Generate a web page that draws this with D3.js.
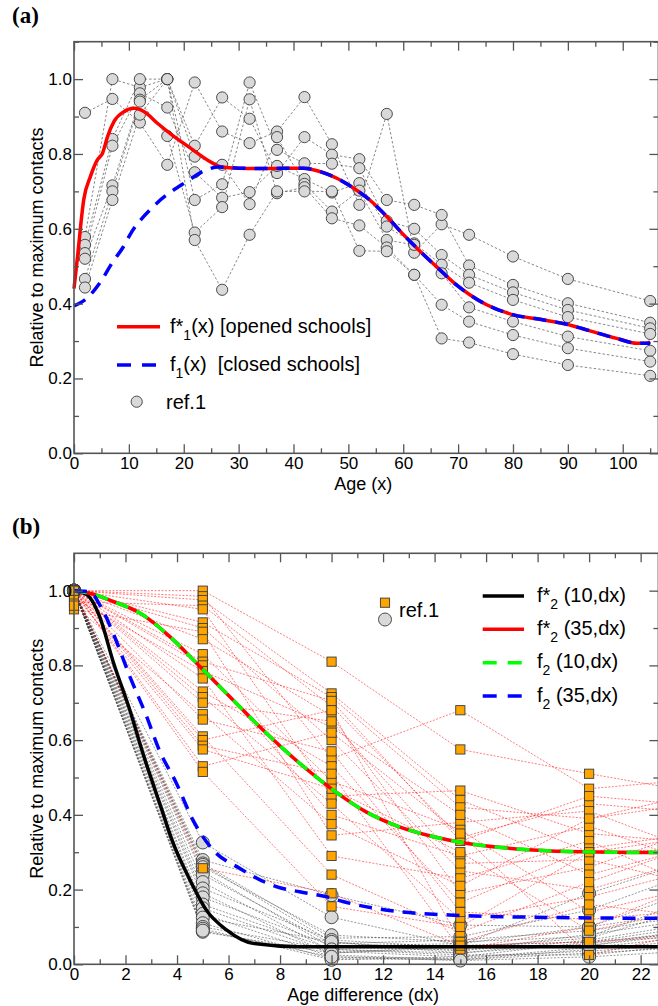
<!DOCTYPE html>
<html>
<head>
<meta charset="utf-8">
<script src="https://d3js.org/d3.v7.min.js"></script>
<style>
body { margin: 0; background: #fff; }
svg { display: block; font-family: "Liberation Sans", Arial, Helvetica, sans-serif; }
text { white-space: pre; }
</style>
</head>
<body>
<script>
var width = 658;
var height = 1006;

// ---- panel (a) : contacts vs age
var ages = [2, 7, 12, 17, 22, 27, 32, 37, 42, 47, 52, 57, 62, 67, 72, 80, 90, 105];
var refA = [
  [0.91, 0.947, 0.884, 0.771, 0.991, 0.86, 0.829, 0.86, 0.952, 0.826, 0.664, 0.907, 0.536, 0.612, 0.584, 0.526, 0.466, 0.407],
  [0.578, 1.0, 0.978, 1.0, 0.822, 0.951, 0.894, 0.749, 0.845, 0.798, 0.786, 0.677, 0.664, 0.637, 0.502, 0.45, 0.401, 0.349],
  [0.557, 0.84, 1.0, 1.0, 0.677, 0.719, 0.991, 0.811, 0.775, 0.774, 0.762, 0.621, 0.60, 0.53, 0.477, 0.43, 0.383, 0.334],
  [0.535, 0.822, 0.962, 0.924, 0.751, 0.683, 0.698, 0.768, 0.733, 0.697, 0.722, 0.606, 0.561, 0.504, 0.456, 0.41, 0.364, 0.319],
  [0.52, 0.716, 0.945, 1.0, 0.793, 0.771, 0.666, 0.845, 0.72, 0.646, 0.702, 0.57, 0.557, 0.481, 0.39, 0.352, 0.312, 0.274],
  [0.466, 0.70, 0.94, 0.848, 0.59, 0.658, 0.946, 0.695, 0.711, 0.628, 0.609, 0.55, 0.477, 0.397, 0.352, 0.316, 0.281, 0.245],
  [0.443, 0.677, 0.905, 1.0, 0.57, 0.437, 0.584, 0.70, 0.70, 0.70, 0.541, 0.54, 0.477, 0.307, 0.296, 0.265, 0.236, 0.207]
];
// curves, [age, value]
var fStar1 = [[0, 0.44], [0.6, 0.52], [1.8, 0.68], [3, 0.74], [4.25, 0.784], [5.2, 0.802], [6.1, 0.846],
  [7.3, 0.887], [9.1, 0.913], [10.9, 0.922], [12.8, 0.913], [15.2, 0.882], [18.2, 0.847], [21.3, 0.815],
  [24.3, 0.784], [26.7, 0.766], [30, 0.762], [35, 0.761], [41.8, 0.762], [44.8, 0.753], [47.9, 0.735],
  [50.9, 0.709], [53.9, 0.677], [57, 0.633], [60, 0.585], [62.5, 0.548], [66.7, 0.49], [69.7, 0.45],
  [72.2, 0.423], [75.2, 0.397], [80.1, 0.37], [84.9, 0.358], [89.8, 0.345], [93.4, 0.33], [98.9, 0.307],
  [102.6, 0.294], [104.4, 0.294], [105, 0.298]];
var f1 = [[0, 0.394], [2.3, 0.414], [4.7, 0.455], [7, 0.51], [9, 0.552], [10.2, 0.584], [14.5, 0.66],
  [20.5, 0.726], [24.2, 0.758], [26.3, 0.765], [30, 0.762], [35, 0.761], [41.8, 0.762], [44.8, 0.753],
  [47.9, 0.735], [50.9, 0.709], [53.9, 0.677], [57, 0.633], [60, 0.585], [62.5, 0.548], [66.7, 0.49],
  [69.7, 0.45], [72.2, 0.423], [75.2, 0.397], [80.1, 0.37], [84.9, 0.358], [89.8, 0.345], [93.4, 0.33],
  [98.9, 0.307], [102.6, 0.294], [105, 0.294]];

// ---- panel (b) : contacts vs age difference
var dxGroups = [0, 5, 10, 15, 20, 25];
var refOpen = [
  [1.0, 1.0, 0.81, 0.575, 0.51, 0.45],
  [1.0, 0.985, 0.55, 0.68, 0.47, 0.50],
  [1.0, 0.975, 0.725, 0.44, 0.30, 0.35],
  [0.97, 0.96, 0.69, 0.34, 0.43, 0.40],
  [1.0, 0.95, 0.45, 0.465, 0.35, 0.32],
  [1.0, 0.915, 0.715, 0.42, 0.39, 0.47],
  [1.0, 0.90, 0.60, 0.25, 0.20, 0.30],
  [0.95, 0.89, 0.345, 0.38, 0.41, 0.28],
  [1.0, 0.87, 0.665, 0.19, 0.26, 0.38],
  [1.0, 0.83, 0.49, 0.36, 0.14, 0.22],
  [1.0, 0.81, 0.705, 0.33, 0.45, 0.42],
  [1.0, 0.80, 0.40, 0.29, 0.37, 0.25],
  [0.98, 0.785, 0.635, 0.40, 0.24, 0.33],
  [1.0, 0.765, 0.29, 0.23, 0.33, 0.18],
  [1.0, 0.73, 0.53, 0.165, 0.31, 0.36],
  [1.0, 0.715, 0.43, 0.12, 0.18, 0.27],
  [1.0, 0.70, 0.65, 0.27, 0.28, 0.20],
  [0.96, 0.67, 0.375, 0.21, 0.39, 0.44],
  [1.0, 0.655, 0.57, 0.14, 0.12, 0.15],
  [1.0, 0.61, 0.24, 0.085, 0.22, 0.34],
  [1.0, 0.60, 0.68, 0.06, 0.16, 0.12],
  [1.0, 0.585, 0.51, 0.04, 0.10, 0.24],
  [0.99, 0.575, 0.47, 0.30, 0.09, 0.16],
  [1.0, 0.53, 0.62, 0.35, 0.025, 0.10],
  [1.0, 0.515, 0.155, 0.10, 0.30, 0.31],
  [1.0, 0.257, 0.19, 0.05, 0.06, 0.08]
];
var refClosed = [
  [1, 0.326, 0.126, 0.05, 0.19, 0.30],
  [1, 0.279, 0.185, 0.105, 0.10, 0.15],
  [1, 0.27, 0.07, 0.074, 0.145, 0.27],
  [1, 0.266, 0.06, 0.03, 0.065, 0.12],
  [1, 0.26, 0.078, 0.06, 0.074, 0.20],
  [1, 0.248, 0.045, 0.04, 0.05, 0.10],
  [1, 0.24, 0.055, 0.065, 0.09, 0.14],
  [1, 0.22, 0.035, 0.02, 0.06, 0.09],
  [1, 0.203, 0.065, 0.045, 0.07, 0.17],
  [1, 0.19, 0.025, 0.012, 0.04, 0.07],
  [1, 0.179, 0.05, 0.055, 0.10, 0.22],
  [1, 0.16, 0.04, 0.025, 0.025, 0.06],
  [1, 0.15, 0.03, 0.05, 0.06, 0.11],
  [1, 0.135, 0.02, 0.015, 0.045, 0.08],
  [1, 0.125, 0.06, 0.035, 0.08, 0.13],
  [1, 0.11, 0.015, 0.012, 0.03, 0.05],
  [1, 0.10, 0.04, 0.03, 0.055, 0.10],
  [1, 0.095, 0.012, 0.02, 0.035, 0.06],
  [1, 0.087, 0.03, 0.045, 0.05, 0.09],
  [1, 0.09, 0.02, 0.01, 0.02, 0.04]
];
var fStar2_10 = [[0, 1], [0.49, 0.99], [1.0, 0.93], [1.52, 0.81], [2.17, 0.68], [2.65, 0.57], [3.33, 0.43],
  [3.85, 0.324], [4.5, 0.226], [5.14, 0.145], [5.92, 0.092], [6.95, 0.056], [8.76, 0.047], [12, 0.047],
  [16, 0.047], [22.7, 0.047]];
var fStar2_35 = [[0, 1], [0.62, 0.993], [1.52, 0.971], [2.56, 0.94], [3.72, 0.877], [4.76, 0.806],
  [6.05, 0.716], [7.34, 0.627], [8.76, 0.538], [10.05, 0.467], [11.34, 0.408], [12.63, 0.368],
  [13.93, 0.342], [15.22, 0.324], [16.5, 0.313], [17.8, 0.306], [19.7, 0.301], [22.7, 0.299]];
var f2_10 = [[0, 1], [0.62, 0.993], [1.52, 0.971], [2.56, 0.94], [3.72, 0.877], [4.76, 0.806],
  [6.05, 0.716], [7.34, 0.627], [8.76, 0.538], [10.05, 0.467], [11.34, 0.408], [12.63, 0.368],
  [13.93, 0.342], [15.22, 0.324], [16.5, 0.313], [17.8, 0.306], [19.7, 0.301], [22.7, 0.299]];
var f2_35 = [[0, 1], [0.62, 0.997], [1.0, 0.962], [1.52, 0.886], [2.17, 0.77], [2.82, 0.663], [3.3, 0.575],
  [3.98, 0.484], [4.62, 0.386], [5.4, 0.306], [6.43, 0.257], [7.85, 0.208], [8.76, 0.194], [9.79, 0.181],
  [10.44, 0.168], [12.63, 0.141], [14.57, 0.132], [17.8, 0.126], [22.7, 0.123]];

var svg = d3.select('body').append('svg')
  .attr('width', width)
  .attr('height', height);

var FRAME = '#555';
var TICK_FONT = 17;

// frame with inward ticks on the four sides
var drawFrame = function(g, x, y, w, h, xMajor, xMinor, yMajor, yMinor){
  var add = function(axis, tx, ty){
    var a = g.append('g').attr('transform', 'translate(' + tx + ',' + ty + ')').call(axis);
    a.select('.domain').remove();
    a.selectAll('line').attr('stroke', FRAME).attr('stroke-width', 1.3);
    return a;
  };
  add(d3.axisBottom(x).tickValues(xMajor).tickSize(-9).tickPadding(4).tickFormat(d3.format('d')), 0, h)
    .selectAll('text').attr('font-size', TICK_FONT).attr('fill', '#000').attr('font-family', null);
  add(d3.axisBottom(x).tickValues(xMinor).tickSize(-5).tickFormat(''), 0, h);
  add(d3.axisTop(x).tickValues(xMajor).tickSize(-9).tickFormat(''), 0, 0);
  add(d3.axisTop(x).tickValues(xMinor).tickSize(-5).tickFormat(''), 0, 0);
  add(d3.axisLeft(y).tickValues(yMajor).tickSize(-9).tickPadding(2).tickFormat(d3.format('.1f')), 0, 0)
    .selectAll('text').attr('font-size', TICK_FONT).attr('fill', '#000').attr('font-family', null);
  add(d3.axisLeft(y).tickValues(yMinor).tickSize(-5).tickFormat(''), 0, 0);
  add(d3.axisRight(y).tickValues(yMajor).tickSize(-9).tickFormat(''), w, 0);
  add(d3.axisRight(y).tickValues(yMinor).tickSize(-5).tickFormat(''), w, 0);
  g.append('rect').attr('width', w).attr('height', h)
    .attr('fill', 'none').attr('stroke', FRAME).attr('stroke-width', 1.6);
};

var axisTitles = function(g, w, h, xTitle){
  g.append('text').attr('x', w / 2 - 3).attr('y', h + 37)
    .attr('text-anchor', 'middle').attr('font-size', 18).text(xTitle);
  g.append('text')
    .attr('transform', 'translate(' + (-31) + ',' + (h / 2) + ') rotate(-90)')
    .attr('text-anchor', 'middle').attr('font-size', 18).text('Relative to maximum contacts');
};

var subText = function(g, x, y, pre, sub, post){
  var t = g.append('text').attr('x', x).attr('y', y).attr('font-size', 20);
  t.append('tspan').text(pre);
  t.append('tspan').attr('font-size', 14).attr('dy', 7).text(sub);
  t.append('tspan').attr('dy', -7).text(post);
};

// =================== panel (a)
(function(){
  var left = 74, top = 41.7, w = 584.4, h = 411.6;
  var g = svg.append('g').attr('transform', 'translate(' + left + ',' + top + ')');
  var x = d3.scaleLinear().domain([0, 106.5]).range([0, w]);
  var y = d3.scaleLinear().domain([0, 1.1]).range([h, 0]);

  svg.append('text').attr('x', 12).attr('y', 22.5)
    .attr('font-family', '"Liberation Serif", "Times New Roman", serif')
    .attr('font-weight', 'bold').attr('font-size', 23).text('(a)');

  var line = d3.line().x(function(d){ return x(d[0]); }).y(function(d){ return y(d[1]); });
  var smooth = d3.line().x(function(d){ return x(d[0]); }).y(function(d){ return y(d[1]); })
    .curve(d3.curveMonotoneX);

  refA.forEach(function(s){
    g.append('path')
      .attr('d', line(s.map(function(v, i){ return [ages[i], v]; })))
      .attr('fill', 'none').attr('stroke', '#555').attr('stroke-width', 0.7)
      .attr('stroke-dasharray', '2.5,2');
  });
  refA.forEach(function(s){
    g.selectAll(null).data(s).enter().append('circle')
      .attr('cx', function(d, i){ return x(ages[i]); })
      .attr('cy', function(d){ return y(d); })
      .attr('r', 5.6)
      .attr('fill', '#d9d9d9').attr('stroke', '#3a3a3a').attr('stroke-width', 0.9);
  });

  g.append('path').attr('d', smooth(fStar1))
    .attr('fill', 'none').attr('stroke', '#ff0000').attr('stroke-width', 3.5);
  g.append('path').attr('d', smooth(f1))
    .attr('fill', 'none').attr('stroke', '#0000ff').attr('stroke-width', 3.5)
    .attr('stroke-dasharray', '13,9');

  drawFrame(g, x, y, w, h, d3.range(0, 101, 10), d3.range(5, 106, 10),
    d3.range(0, 1.01, 0.2), [0.1, 0.3, 0.5, 0.7, 0.9, 1.1]);
  axisTitles(g, w, h, 'Age (x)');

  // legend
  var lg = svg.append('g');
  lg.append('line').attr('x1', 117).attr('x2', 160).attr('y1', 326.7).attr('y2', 326.7)
    .attr('stroke', '#ff0000').attr('stroke-width', 3.5);
  subText(lg, 170, 333, 'f*', '1', '(x) [opened schools]');
  lg.append('line').attr('x1', 117).attr('x2', 160).attr('y1', 365).attr('y2', 365)
    .attr('stroke', '#0000ff').attr('stroke-width', 3.5).attr('stroke-dasharray', '14,11');
  subText(lg, 170, 371, 'f', '1', '(x)  [closed schools]');
  lg.append('circle').attr('cx', 136.7).attr('cy', 401.7).attr('r', 5.6)
    .attr('fill', '#d9d9d9').attr('stroke', '#3a3a3a').attr('stroke-width', 0.9);
  lg.append('text').attr('x', 166).attr('y', 408.5).attr('font-size', 20).text('ref.1');
})();

// =================== panel (b)
(function(){
  var left = 74, top = 553.3, w = 584.4, h = 411;
  var g = svg.append('g').attr('transform', 'translate(' + left + ',' + top + ')');
  var x = d3.scaleLinear().domain([0, 22.69]).range([0, w]);
  var y = d3.scaleLinear().domain([0, 1.1]).range([h, 0]);

  svg.append('text').attr('x', 12).attr('y', 534)
    .attr('font-family', '"Liberation Serif", "Times New Roman", serif')
    .attr('font-weight', 'bold').attr('font-size', 23).text('(b)');

  var line = d3.line().x(function(d){ return x(d[0]); }).y(function(d){ return y(d[1]); });
  var smooth = d3.line().x(function(d){ return x(d[0]); }).y(function(d){ return y(d[1]); })
    .curve(d3.curveMonotoneX);
  var pts = function(s){ return s.map(function(v, i){ return [dxGroups[i], v]; }); };

  refClosed.forEach(function(s){
    g.append('path').attr('d', line(pts(s)))
      .attr('fill', 'none').attr('stroke', '#333').attr('stroke-width', 0.6)
      .attr('stroke-dasharray', '2,1.5').attr('opacity', 0.85);
  });
  refOpen.forEach(function(s){
    g.append('path').attr('d', line(pts(s)))
      .attr('fill', 'none').attr('stroke', '#ff1010').attr('stroke-width', 0.65)
      .attr('stroke-dasharray', '2,1.5').attr('opacity', 0.85);
  });
  refClosed.forEach(function(s){
    g.selectAll(null).data(pts(s)).enter().append('circle')
      .attr('cx', function(d){ return x(d[0]); })
      .attr('cy', function(d){ return y(d[1]); })
      .attr('r', 6.5)
      .attr('fill', '#d9d9d9').attr('stroke', '#3a3a3a').attr('stroke-width', 0.9);
  });
  refOpen.forEach(function(s){
    g.selectAll(null).data(pts(s)).enter().append('rect')
      .attr('x', function(d){ return x(d[0]) - 4.6; })
      .attr('y', function(d){ return y(d[1]) - 4.6; })
      .attr('width', 9.2).attr('height', 9.2)
      .attr('fill', '#ffa500').attr('stroke', '#3a3a3a').attr('stroke-width', 0.9);
  });

  g.append('path').attr('d', smooth(fStar2_10))
    .attr('fill', 'none').attr('stroke', '#000').attr('stroke-width', 3.5);
  g.append('path').attr('d', smooth(fStar2_35))
    .attr('fill', 'none').attr('stroke', '#ff0000').attr('stroke-width', 3.5);
  g.append('path').attr('d', smooth(f2_10))
    .attr('fill', 'none').attr('stroke', '#00ff00').attr('stroke-width', 3.5)
    .attr('stroke-dasharray', '13,9');
  g.append('path').attr('d', smooth(f2_35))
    .attr('fill', 'none').attr('stroke', '#0000ff').attr('stroke-width', 3.5)
    .attr('stroke-dasharray', '13,9');

  drawFrame(g, x, y, w, h, d3.range(0, 23, 2), d3.range(1, 23, 2),
    d3.range(0, 1.01, 0.2), [0.1, 0.3, 0.5, 0.7, 0.9]);
  axisTitles(g, w, h, 'Age difference (dx)');

  // legend
  var lg = svg.append('g');
  lg.append('rect').attr('x', 380.4).attr('y', 598.1).attr('width', 9.2).attr('height', 9.2)
    .attr('fill', '#ffa500').attr('stroke', '#3a3a3a').attr('stroke-width', 0.9);
  lg.append('circle').attr('cx', 385).attr('cy', 619.5).attr('r', 6.5)
    .attr('fill', '#d9d9d9').attr('stroke', '#3a3a3a').attr('stroke-width', 0.9);
  lg.append('text').attr('x', 399).attr('y', 617).attr('font-size', 20).text('ref.1');

  var items = [
    { color: '#000', dash: null, pre: 'f*', post: ' (10,dx)', y: 596 },
    { color: '#ff0000', dash: null, pre: 'f*', post: ' (35,dx)', y: 629.3 },
    { color: '#00ff00', dash: '14,11', pre: 'f', post: ' (10,dx)', y: 662.7 },
    { color: '#0000ff', dash: '14,11', pre: 'f', post: ' (35,dx)', y: 696 }
  ];
  items.forEach(function(it){
    lg.append('line').attr('x1', 482.7).attr('x2', 524).attr('y1', it.y).attr('y2', it.y)
      .attr('stroke', it.color).attr('stroke-width', 3.5).attr('stroke-dasharray', it.dash);
    subText(lg, 537, it.y + 5.5, it.pre, '2', it.post);
  });
})();
</script>
</body>
</html>
